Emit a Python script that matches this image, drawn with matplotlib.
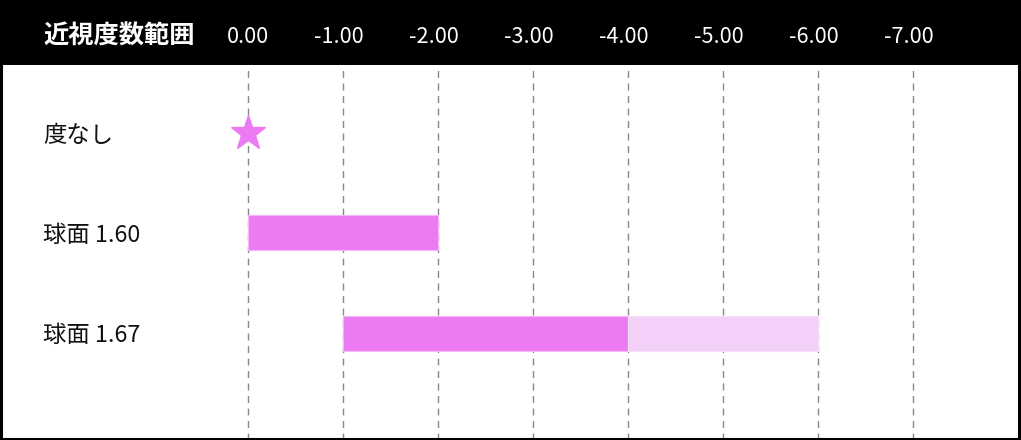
import matplotlib
matplotlib.use("Agg")
import matplotlib.pyplot as plt
from matplotlib.patches import Rectangle
import matplotlib.transforms as mtransforms

plt.rcParams['font.family'] = ['Noto Sans CJK JP', 'DejaVu Sans']

title = "近視度数範囲"
tick_values = [0, 1, 2, 3, 4, 5, 6, 7]
tick_labels = ["0.00", "-1.00", "-2.00", "-3.00", "-4.00", "-5.00", "-6.00", "-7.00"]
categories = ["度なし", "球面 1.60", "球面 1.67"]
star_value = 0.0            # 度なし: 0.00
bar_160 = (0.0, 2.0)        # 0.00 to -2.00
bar_167_main = (1.0, 4.0)   # -1.00 to -4.00
bar_167_ext = (4.0, 6.0)    # -4.00 to -6.00

c_main = "#EC7BF3"
c_light = "#F3D0F7"

W, H = 1021, 440
fig = plt.figure(figsize=(W / 100, H / 100), dpi=100)

header_h = 65
x0_px = 248
step_px = 95
xlim = (-x0_px / step_px, (W - x0_px) / step_px)

# main axes
ax = fig.add_axes([0, 0, 1, (H - header_h) / H])
ax.set_xlim(*xlim)
row0_px = 133
row_step = 100
ax.set_ylim((H - row0_px) / row_step, (header_h - row0_px) / row_step)
for s in ax.spines.values():
    s.set_visible(False)
ax.set_xticks([])
ax.set_yticks([])

for v in tick_values:
    ax.axvline(v, color="#888888", lw=1, ls=(0, (5, 4)), zorder=1)

bh = 0.35
ax.barh(1, bar_160[1] - bar_160[0], left=bar_160[0], height=bh, color=c_main,
        edgecolor="#F2B8F6", lw=0.8, zorder=2)
ax.barh(2, bar_167_main[1] - bar_167_main[0], left=bar_167_main[0], height=bh,
        color=c_main, edgecolor="#F2B8F6", lw=0.8, zorder=2)
ax.barh(2, bar_167_ext[1] - bar_167_ext[0], left=bar_167_ext[0], height=bh,
        color=c_light, edgecolor="#F6E0F9", lw=0.8, zorder=2)
ax.plot([star_value], [0], marker="*", markersize=26, color=c_main,
        markeredgecolor=c_main, zorder=3, clip_on=False)

trans = mtransforms.blended_transform_factory(fig.transFigure, ax.transData)
for i, lab in enumerate(categories):
    ax.text(43 / W, i + 0.02, lab, transform=trans, ha="left", va="center",
            fontsize=16.8, color="#111111")

# header axes
hax = fig.add_axes([0, (H - header_h) / H, 1, header_h / H])
hax.set_facecolor("black")
hax.set_xlim(*xlim)
hax.set_ylim(0, 1)
hax.set_xticks([])
hax.set_yticks([])
for s in hax.spines.values():
    s.set_visible(False)
htrans = mtransforms.blended_transform_factory(fig.transFigure, hax.transAxes)
hax.text(43 / W, 0.44, title, transform=htrans, ha="left", va="center",
         fontsize=18.2, fontweight="bold", color="white")
for v, lab in zip(tick_values, tick_labels):
    off = -0.045 if lab.startswith("-") else 0.0
    hax.text(v + off, 0.43, lab, ha="center", va="center", fontsize=15.6,
             color="white")

# outer frame
fig.patches.append(Rectangle((1 / W, 1.5 / H), (W - 3) / W, (H - 3) / H,
                             transform=fig.transFigure, fill=False,
                             edgecolor="black", lw=2.2, zorder=10))

fig.savefig("out.png", dpi=100)
